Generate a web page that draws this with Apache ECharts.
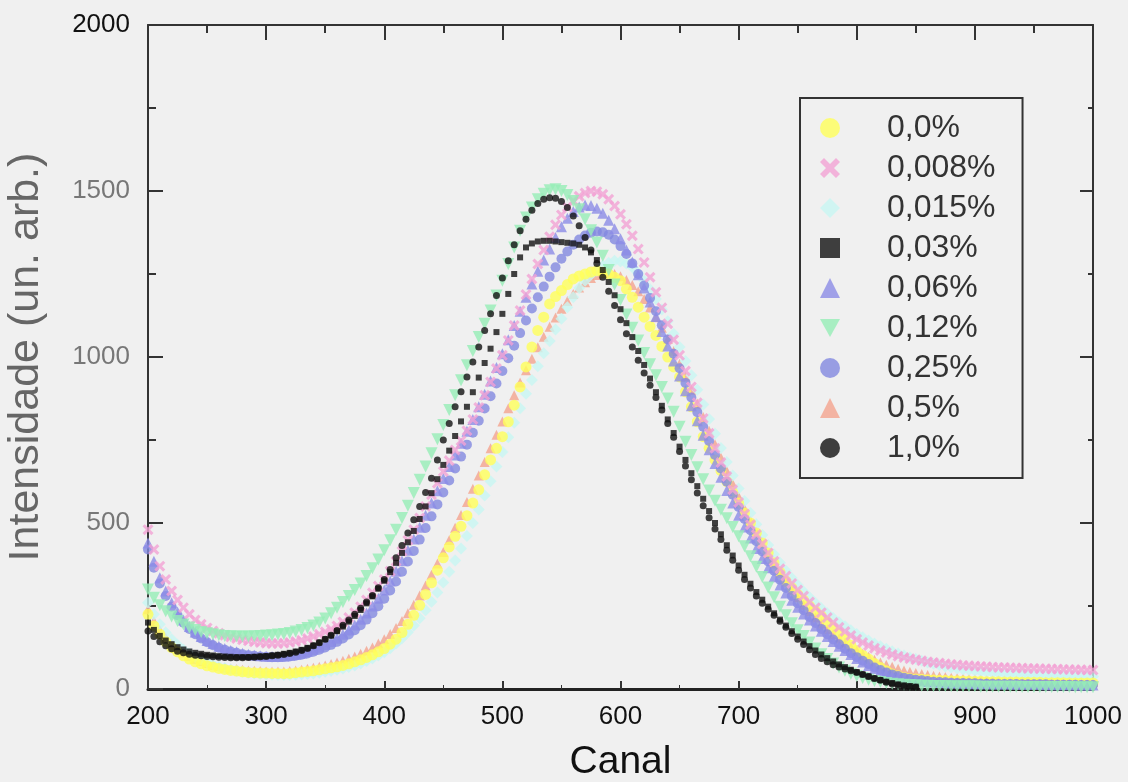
<!DOCTYPE html>
<html>
<head>
<meta charset="utf-8">
<script src="https://cdn.jsdelivr.net/npm/echarts@6/dist/echarts.min.js"></script>
<style>
html,body{margin:0;padding:0;background:#f0f0f0;}
#c{width:1128px;height:782px;}
</style>
</head>
<body>
<div id="c"></div>
<script>
// Channel positions (x)
const canal = [200,205,210,215,220,225,230,235,240,245,250,255,260,265,270,275,280,285,290,295,
300,305,310,315,320,325,330,335,340,345,350,355,360,365,370,375,380,385,390,395,
400,405,410,415,420,425,430,435,440,445,450,455,460,465,470,475,480,485,490,495,
500,505,510,515,520,525,530,535,540,545,550,555,560,565,570,575,580,585,590,595,
600,605,610,615,620,625,630,635,640,645,650,655,660,665,670,675,680,685,690,695,
700,705,710,715,720,725,730,735,740,745,750,755,760,765,770,775,780,785,790,795,
800,805,810,815,820,825,830,835,840,845,850,855,860,865,870,875,880,885,890,895,
900,905,910,915,920,925,930,935,940,945,950,955,960,965,970,975,980,985,990,995,1000];

const seriesNames = ['0,0%','0,008%','0,015%','0,03%','0,06%','0,12%','0,25%','0,5%','1,0%'];

const v00 = [225,190,165,142,125,112,100,90,82,76,
70,66,62,59,56,54,52,50,49,48,
48,47,47,46,47,49,51,53,55,58,
61,64,67,71,76,82,88,95,103,112,
122,135,150,170,195,222,252,285,320,358,
395,428,460,490,522,560,600,645,690,725,
760,805,855,910,970,1030,1080,1120,1160,1182,
1200,1218,1235,1244,1250,1256,1260,1255,1250,1240,
1230,1205,1180,1150,1120,1092,1065,1032,1000,970,
940,895,850,805,760,725,690,658,625,592,
560,530,500,470,440,410,380,352,325,305,
285,268,250,235,220,202,185,168,150,132,
115,102,90,77,65,55,45,40,35,32,
30,29,28,27,26,26,25,25,24,24,
23,23,22,22,22,21,21,21,20,20,
20,20,19,19,19,19,18,18,18,18,
18];

const v008 = [480,420,370,330,295,268,245,225,208,195,
184,175,168,162,157,152,148,145,142,140,
138,137,137,138,140,143,147,152,158,165,
172,180,190,202,215,230,248,268,290,310,
330,355,385,415,448,480,515,550,585,620,
655,688,720,748,778,812,848,885,925,965,
1005,1050,1095,1140,1188,1235,1280,1322,1362,1398,
1428,1452,1470,1484,1494,1500,1498,1490,1475,1455,
1430,1400,1365,1325,1285,1240,1195,1148,1100,1052,
1005,958,910,862,815,770,725,682,640,600,
562,527,495,465,437,410,385,362,340,318,
298,280,262,245,230,215,200,186,173,161,
150,140,131,123,116,110,104,99,95,91,
88,85,82,80,78,76,74,73,71,70,
69,68,67,66,65,65,64,63,63,62,
62,61,61,60,60,59,59,58,58,57,
57];

const v015 = [260,225,195,170,150,133,118,106,96,88,
80,74,68,63,59,55,52,49,47,45,
44,43,42,42,42,43,44,45,47,49,
52,55,58,62,66,71,77,84,92,101,
111,123,137,153,171,191,213,237,263,291,
321,353,387,423,461,500,541,583,626,670,
714,758,802,846,889,931,972,1011,1048,1083,
1115,1150,1180,1208,1230,1248,1260,1275,1284,1290,
1288,1282,1270,1252,1230,1204,1175,1143,1108,1070,
1030,988,945,901,857,813,769,726,684,643,
604,566,530,496,464,434,406,380,356,334,
313,294,276,259,243,228,214,201,189,177,
166,156,146,137,129,121,114,107,101,95,
90,85,80,76,72,68,65,62,59,57,
55,53,51,49,48,47,46,45,44,43,
42,42,41,41,40,40,39,39,38,38,
38];

const v03 = [200,178,160,146,135,126,119,113,109,106,
103,101,99,98,97,96,96,96,97,98,
99,101,103,106,109,113,118,124,131,140,
150,161,174,188,203,220,238,258,279,302,
326,352,380,410,442,476,512,550,590,632,
675,718,762,806,850,894,938,982,1025,1075,
1130,1190,1250,1300,1330,1342,1348,1350,1350,1348,
1346,1344,1342,1338,1330,1315,1292,1262,1226,1186,
1144,1102,1060,1018,976,935,894,853,812,771,
730,690,650,611,573,536,500,466,433,402,
372,344,317,292,269,248,228,209,191,174,
158,143,129,116,104,93,83,74,66,58,
51,44,38,32,27,22,18,14,11,9,
7,null,null,null,null,null,null,null,null,null,
null,null,null,null,null,null,null,null,null,null,
null,null,null,null,null,null,null,null,null,null,
null];

const v06 = [440,385,335,295,260,232,208,188,172,158,
146,137,129,122,116,112,108,105,102,100,
99,98,98,99,101,104,108,113,119,126,
134,143,153,165,178,193,210,229,250,273,
298,325,355,386,418,452,487,523,560,597,
634,670,705,740,776,812,850,888,928,968,
1010,1052,1095,1138,1180,1220,1258,1292,1325,1360,
1392,1418,1438,1452,1458,1456,1448,1433,1412,1386,
1356,1322,1286,1248,1208,1166,1122,1077,1033,988,
943,898,853,808,764,721,679,638,598,560,
523,488,455,423,393,365,338,313,289,267,
246,226,208,190,174,158,143,129,116,104,
92,81,71,62,54,47,41,36,32,29,
26,24,22,21,20,19,18,18,17,17,
16,16,16,15,15,15,15,14,14,14,
14,14,13,13,13,13,13,12,12,12,
12];

const v12 = [300,275,252,234,218,205,194,185,178,172,
168,165,162,160,159,158,158,158,159,160,
161,162,164,166,169,173,178,184,191,200,
212,228,245,262,280,298,318,340,364,390,
418,448,480,515,552,590,630,670,710,752,
795,840,885,930,975,1018,1060,1100,1140,1185,
1230,1280,1330,1380,1420,1450,1475,1492,1502,1505,
1500,1488,1470,1445,1415,1382,1345,1305,1262,1218,
1172,1128,1088,1050,1012,978,945,910,875,835,
790,745,705,668,632,598,567,540,514,488,
460,430,400,368,337,306,276,248,222,198,
177,160,140,122,105,90,77,65,55,46,
39,33,28,24,21,18,16,14,13,12,
11,10,10,9,9,9,8,8,8,8,
8,7,7,7,7,7,7,7,6,6,
6,6,6,6,6,6,6,5,5,5,
5];

const v25 = [420,365,318,280,248,222,200,181,165,152,
141,132,124,118,113,109,105,102,100,98,
97,96,96,97,98,100,103,107,112,118,
125,133,142,152,164,177,192,209,228,249,
272,297,324,353,384,416,450,485,520,556,
592,628,664,700,736,772,808,845,882,920,
958,996,1034,1072,1110,1146,1180,1212,1242,1270,
1296,1318,1338,1354,1366,1374,1378,1376,1368,1354,
1334,1310,1282,1250,1215,1178,1138,1096,1053,1010,
966,922,878,834,790,747,705,664,624,585,
548,512,478,445,414,384,356,329,304,280,
258,237,217,199,181,165,149,135,121,108,
96,85,75,65,57,50,44,39,34,31,
28,26,24,22,21,20,19,18,18,17,
17,16,16,16,15,15,15,15,14,14,
14,14,14,13,13,13,13,13,12,12,
12];

const v5 = [240,205,178,155,137,122,110,100,91,84,
78,73,69,65,62,60,58,56,55,54,
53,53,53,53,54,56,58,61,64,67,
71,75,80,85,91,98,106,115,125,137,
150,166,184,205,228,254,282,312,344,378,
413,449,486,524,563,603,643,684,725,766,
806,846,885,923,960,995,1029,1061,1091,1119,
1145,1169,1190,1209,1225,1238,1247,1252,1253,1250,
1243,1232,1217,1198,1175,1149,1120,1088,1054,1018,
980,941,901,860,819,778,737,697,657,618,
580,543,507,473,440,409,379,351,324,299,
276,254,234,215,197,181,166,152,139,127,
116,106,97,88,80,73,67,61,56,52,
48,45,42,40,38,36,34,33,32,31,
30,29,28,28,27,27,26,26,25,25,
25,24,24,24,23,23,23,23,22,22,
22];

const v10 = [175,158,142,130,121,114,109,105,102,100,
98,97,96,95,94,94,94,95,96,97,
98,100,102,104,107,111,116,122,130,139,
150,162,176,192,208,225,243,262,282,305,
330,360,395,432,470,510,550,592,635,690,
750,800,850,895,940,985,1030,1080,1130,1185,
1238,1290,1338,1380,1415,1442,1462,1475,1480,1478,
1468,1450,1425,1395,1360,1322,1282,1240,1198,1155,
1112,1070,1030,990,952,915,878,840,800,758,
715,672,630,590,552,516,482,450,418,388,
358,330,304,280,258,240,222,204,186,167,
150,134,118,104,92,82,73,66,60,55,
50,44,38,32,26,20,15,11,8,6,
5,null,null,null,null,null,null,null,null,null,
null,null,null,null,null,null,null,null,null,null,
null,null,null,null,null,null,null,null,null,null,
null];

const yTicks = [0,500,1000,1500,2000];
const xTicks = [200,300,400,500,600,700,800,900,1000];

function pairs(vals){
  const out=[];
  for(let i=0;i<canal.length;i++){ if(vals[i]!==null) out.push([canal[i],vals[i]]); }
  return out;
}

const X_PATH='path://M0,2 L2,0 L5,3 L8,0 L10,2 L7,5 L10,8 L8,10 L5,7 L2,10 L0,8 L3,5 Z';
const DOWN_TRI='path://M0,0 L10,0 L5,9 Z';

const defs = {
  '0,0%':   {data:v00,  color:'#ffff5a', symbol:'circle',   size:11},
  '0,008%': {data:v008, color:'#f2a2d4', symbol:X_PATH,     size:11},
  '0,015%': {data:v015, color:'#c8f6f2', symbol:'diamond',  size:12},
  '0,03%':  {data:v03,  color:'#111111', symbol:'rect',     size:6},
  '0,06%':  {data:v06,  color:'#8c8ce6', symbol:'triangle', size:11},
  '0,12%':  {data:v12,  color:'#96eeb6', symbol:DOWN_TRI,   size:12},
  '0,25%':  {data:v25,  color:'#8288e0', symbol:'circle',   size:10},
  '0,5%':   {data:v5,   color:'#f4a48e', symbol:'triangle', size:10},
  '1,0%':   {data:v10,  color:'#111111', symbol:'circle',   size:7}
};
// drawing order (bottom to top)
const drawOrder = ['0,5%','0,015%','0,0%','0,25%','0,06%','0,008%','0,12%','0,03%','1,0%'];

const series = drawOrder.map(n => ({
  name:n, type:'scatter', data:pairs(defs[n].data),
  symbol:defs[n].symbol, symbolSize:defs[n].size,
  itemStyle:{color:defs[n].color},
  silent:true
}));

const chart = echarts.init(document.getElementById('c'), null, {renderer:'canvas'});
const FONT='Liberation Sans, Arial, sans-serif';
chart.setOption({
  animation:false,
  backgroundColor:'#f0f0f0',
  grid:{left:148, right:35, top:25, bottom:93, containLabel:false, outerBoundsMode:'none'},
  legend:{
    orient:'vertical', left:800, top:98, data:seriesNames,
    selectedMode:false,
    itemWidth:20, itemHeight:20, itemGap:8,
    padding:[14,27,14,20],
    borderColor:'#333', borderWidth:2, backgroundColor:'#f0f0f0',
    textStyle:{fontSize:32, color:'#333', fontFamily:FONT, padding:[0,0,0,42], lineHeight:32}
  },
  xAxis:[{
    type:'value', min:200, max:1000, interval:100, position:'bottom',
    name:'Canal', nameLocation:'middle', nameGap:54,
    nameTextStyle:{fontSize:39, color:'#111', fontFamily:FONT},
    axisLine:{show:true, lineStyle:{color:'#222', width:3}},
    axisTick:{show:true, inside:true, length:8, lineStyle:{color:'#333', width:2}},
    minorTick:{show:true, splitNumber:2, length:4, lineStyle:{color:'#333', width:1}},
    axisLabel:{fontSize:26, color:'#111', fontFamily:FONT, margin:15,
      formatter:v=> xTicks.indexOf(v)>=0 ? String(v) : ''},
    splitLine:{show:false}
  },{
    type:'value', min:200, max:1000, interval:100, position:'top',
    axisLine:{show:true, onZero:false, lineStyle:{color:'#333', width:2}},
    axisTick:{show:true, inside:true, length:15, lineStyle:{color:'#333', width:2}},
    minorTick:{show:true, splitNumber:2, length:8, lineStyle:{color:'#333', width:2}},
    axisLabel:{show:false}, splitLine:{show:false}
  }],
  yAxis:[{
    type:'value', min:0, max:2000, interval:500, position:'left',
    name:'Intensidade (un. arb.)', nameLocation:'middle', nameGap:100,
    nameTextStyle:{fontSize:43, color:'#666', fontFamily:FONT},
    axisLine:{show:true, lineStyle:{color:'#333', width:2}},
    axisTick:{show:true, inside:true, length:15, lineStyle:{color:'#333', width:2}},
    minorTick:{show:true, splitNumber:2, length:8, lineStyle:{color:'#333', width:2}},
    axisLabel:{fontSize:26, fontFamily:FONT, margin:18,
      formatter:v=> yTicks.indexOf(v)<0 ? '' : (v===2000 ? '{b|'+v+'}' : '{g|'+v+'}'),
      rich:{b:{color:'#111', fontSize:26, fontFamily:FONT}, g:{color:'#777', fontSize:26, fontFamily:FONT}}},
    splitLine:{show:false}
  },{
    type:'value', min:0, max:2000, interval:500, position:'right',
    axisLine:{show:true, onZero:false, lineStyle:{color:'#333', width:2}},
    axisTick:{show:true, inside:true, length:13, lineStyle:{color:'#333', width:2}},
    minorTick:{show:true, splitNumber:2, length:5, lineStyle:{color:'#333', width:2}},
    axisLabel:{show:false}, splitLine:{show:false}
  }],
  series: series
});
</script>
</body>
</html>
